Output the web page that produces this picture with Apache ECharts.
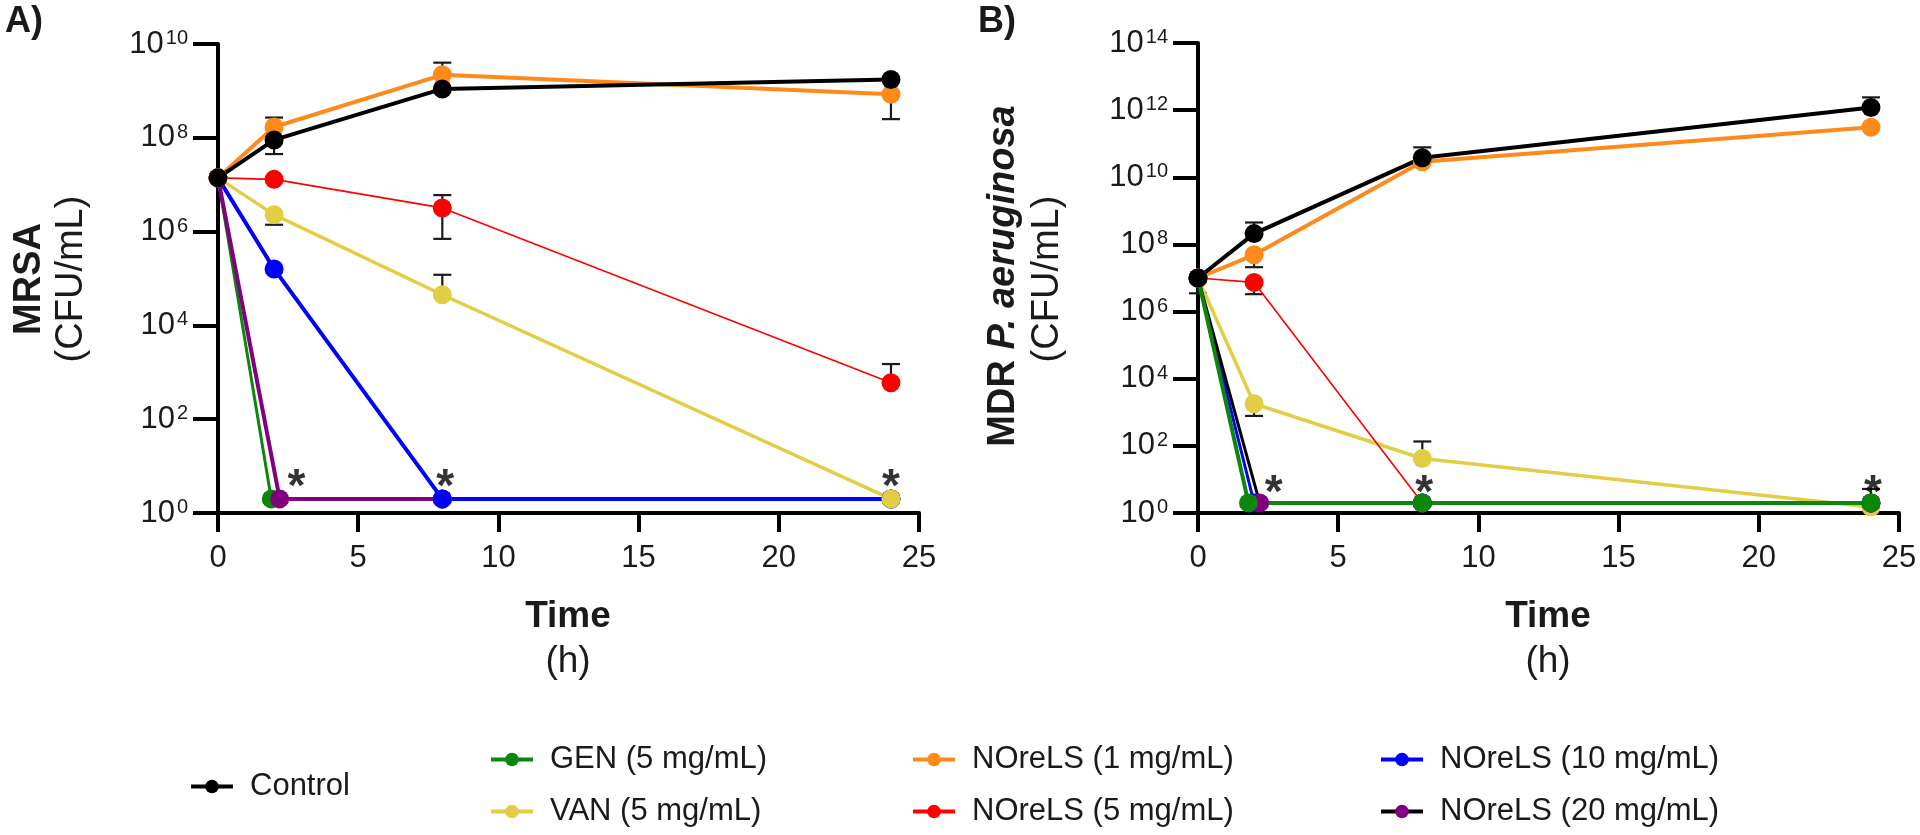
<!DOCTYPE html>
<html><head><meta charset="utf-8">
<script src="https://cdn.jsdelivr.net/npm/echarts@6/dist/echarts.min.js"></script>
<style>html,body{margin:0;padding:0;background:#fff}#c{width:1920px;height:835px}</style>
</head><body><div id="c"></div><script>
// ---------- DATA ----------
const names = ['Control','GEN (5 mg/mL)','VAN (5 mg/mL)','NOreLS (1 mg/mL)','NOreLS (5 mg/mL)','NOreLS (10 mg/mL)','NOreLS (20 mg/mL)'];
const xTicks = [0,5,10,15,20,25];
// Panel A: MRSA
const timeA      = [0, 2, 8, 24];
const genTimeA   = [0, 1.9, 8, 24];
const n20TimeA   = [0, 2.2, 8, 24];
const controlA   = [1.4e7, 9e7, 1.1e9, 1.75e9];
const genA       = [1.4e7, 2, 2, 2];
const vanA       = [1.4e7, 2.3e6, 4.5e4, 2];
const n1A        = [1.4e7, 1.7e8, 2.2e9, 8.5e8];
const n5A        = [1.4e7, 1.3e7, 3.2e6, 600];
const n10A       = [1.4e7, 1.6e5, 2, 2];
const n20A       = [1.4e7, 2, 2, 2];
// error bars: [time, mean, end]
const errA = [[2,9e7,4.5e7],[2,1.7e8,2.7e8],[8,1.1e9,2.2e9],[8,2.2e9,4e9],[24,8.5e8,2.5e8],
              [8,3.2e6,6e6],[8,3.2e6,7e5],[24,600,1500],[2,2.3e6,1.4e6],[8,4.5e4,1.2e5]];
const starsA = [[2.8,4],[8.1,4],[24,4]];
// Panel B: MDR P. aeruginosa
const timeB      = [0, 2, 8, 24];
const genTimeB   = [0, 1.8, 8, 24];
const n10TimeB   = [0, 2.0, 8, 24];
const n20TimeB   = [0, 2.2, 8, 24];
const controlB   = [1e7, 2.1e8, 3.8e10, 1.2e12];
const genB       = [1e7, 2, 2, 2];
const vanB       = [1e7, 1.8e3, 42, 1.5];
const n1B        = [1e7, 4.9e7, 2.9e10, 3.1e11];
const n5B        = [1e7, 7.4e6, 2, 2];
const n10B       = [1e7, 2, 2, 2];
const n20B       = [1e7, 2, 2, 2];
const errB = [[0,1e7,3.5e6],[2,2.1e8,4.5e8],[2,4.9e7,2.1e7],[2,7.4e6,3.3e6],[2,1.8e3,780],
              [8,3.8e10,7.8e10],[24,1.2e12,2.4e12],[8,42,135],[24,2,5.2]];
const starsB = [[2.7,4.8],[8.07,4.8],[24.07,4.8]];

// ---------- STYLE ----------
const COL = {ctrl:'#000000', gen:'#0b870b', van:'#e3cd45', n1:'#ff8a1c', n5:'#ff0000', n10:'#0000ff', n20:'#800080'};
const FONT = 'Liberation Sans, Arial, sans-serif';

function zip(xs, ys){ return xs.map((x,i)=>[x, ys[i]]); }
function line(name, xs, ys, color, width, gi, lineColor){
  return {type:'line', name, xAxisIndex:gi, yAxisIndex:gi, data:zip(xs,ys),
    symbol:'circle', symbolSize:19, showSymbol:true,
    lineStyle:{color: lineColor || color, width}, itemStyle:{color},
    emphasis:{disabled:true}, animation:false, z:3};
}
function errSeries(data, gi){
  return {type:'custom', xAxisIndex:gi, yAxisIndex:gi, data, z:2, animation:false, silent:true,
    renderItem(params, api){
      const p1 = api.coord([api.value(0), api.value(1)]);
      const p2 = api.coord([api.value(0), api.value(2)]);
      const w = 9, st = {stroke:'#1a1a1a', lineWidth:2.2};
      return {type:'group', children:[
        {type:'line', shape:{x1:p1[0],y1:p1[1],x2:p2[0],y2:p2[1]}, style:st},
        {type:'line', shape:{x1:p2[0]-w,y1:p2[1],x2:p2[0]+w,y2:p2[1]}, style:st}
      ]};
    }};
}
function starSeries(data, gi){
  return {type:'scatter', xAxisIndex:gi, yAxisIndex:gi, data, symbolSize:0, z:10, animation:false, silent:true,
    label:{show:true, position:'inside', formatter:'*', fontFamily:FONT, fontWeight:'bold', fontSize:46, color:'#000', offset:[0,4]}};
}
const sup = v => { const e = Math.round(Math.log10(v)); return '{b|10}{s|' + e + '}'; };
function yAxis(gi, max){
  return {type:'log', gridIndex:gi, min:1, max, logBase:10, interval:2,
    axisLine:{show:true, onZero:false, lineStyle:{color:'#000', width:4}},
    axisTick:{show:true, length:25, lineStyle:{color:'#000', width:4}},
    splitLine:{show:false}, minorTick:{show:false},
    axisLabel:{margin:30, formatter:sup, color:'#1a1a1a',
      rich:{b:{fontFamily:FONT, fontSize:31, color:'#1a1a1a'}, s:{fontFamily:FONT, fontSize:20, color:'#1a1a1a', verticalAlign:'top', padding:[0,0,0,2]}}}};
}
function xAxis(gi){
  return {type:'value', gridIndex:gi, min:0, max:25, interval:5,
    axisLine:{show:true, onZero:false, lineStyle:{color:'#000', width:4}},
    axisTick:{show:true, length:19, lineStyle:{color:'#000', width:4}},
    splitLine:{show:false},
    axisLabel:{margin:30, fontFamily:FONT, fontSize:31, color:'#1a1a1a',
      formatter: v => xTicks.includes(v) ? String(v) : ''}};
}

const seriesA = [
  errSeries(errA, 0),
  line(names[1], genTimeA, genA, COL.gen, 3, 0),
  line(names[6], n20TimeA, n20A, COL.n20, 4, 0),
  line(names[5], timeA, n10A, COL.n10, 4, 0),
  line(names[4], timeA, n5A, COL.n5, 1.6, 0),
  line(names[2], timeA, vanA, COL.van, 3.5, 0),
  line(names[3], timeA, n1A, COL.n1, 4, 0),
  line(names[0], timeA, controlA, COL.ctrl, 4, 0),
  starSeries(starsA, 0)
];
const seriesB = [
  errSeries(errB, 1),
  line(names[2], timeB, vanB, COL.van, 3.5, 1),
  line(names[4], timeB, n5B, COL.n5, 1.6, 1),
  line(names[5], n10TimeB, n10B, COL.n10, 3, 1),
  line(names[6], n20TimeB, n20B, COL.n20, 3, 1, '#000'),
  line(names[1], genTimeB, genB, COL.gen, 4, 1),
  line(names[3], timeB, n1B, COL.n1, 4, 1),
  line(names[0], timeB, controlB, COL.ctrl, 4, 1),
  starSeries(starsB, 1)
];

const legendBase = {orient:'vertical', itemWidth:42, itemHeight:17, itemGap:21, selectedMode:false,
  padding:0, height:110, lineStyle:{width:4},
  textStyle:{fontFamily:FONT, fontSize:31, color:'#1a1a1a', padding:[0,0,0,12]}};
const legends = [
  Object.assign({}, legendBase, {left:189, top:771, data:[names[0]]}),
  Object.assign({}, legendBase, {left:489, top:744, data:[names[1], names[2]]}),
  Object.assign({}, legendBase, {left:911, top:744, data:[names[3], names[4]]}),
  Object.assign({}, legendBase, {left:1379, top:744, data:[names[5], {name:names[6], lineStyle:{color:'#000', width:4}}]})
];

const txt = (x, y, text, size, weight, rot, extra) => ({type:'text', x, y, rotation: rot||0, silent:true,
  style:Object.assign({text, fontFamily:FONT, fontSize:size, fontWeight:weight||'normal', fill:'#1a1a1a',
    textAlign:'center', textVerticalAlign:'middle'}, extra||{})});

const graphics = [
  {type:'text', left:5, top:4, style:{text:'A)', fontFamily:FONT, fontSize:36, fontWeight:'bold', fill:'#1a1a1a'}},
  {type:'text', left:978, top:4, style:{text:'B)', fontFamily:FONT, fontSize:36, fontWeight:'bold', fill:'#1a1a1a'}},
  txt(30, 279, 'MRSA', 38, 'bold', Math.PI/2),
  txt(72, 279, '(CFU/mL)', 38, 'normal', Math.PI/2),
  txt(1004, 276, '{b|MDR }{i|P. aeruginosa}', 38, 'bold', Math.PI/2,
      {rich:{b:{fontFamily:FONT, fontSize:38, fontWeight:'bold', fill:'#1a1a1a'}, i:{fontFamily:FONT, fontSize:38, fontWeight:'bold', fontStyle:'italic', fill:'#1a1a1a'}}}),
  txt(1048, 279, '(CFU/mL)', 38, 'normal', Math.PI/2),
  txt(568, 617, 'Time', 37, 'bold'),
  txt(568, 662, '(h)', 37, 'normal'),
  txt(1548, 617, 'Time', 37, 'bold'),
  txt(1548, 662, '(h)', 37, 'normal')
];

const chart = echarts.init(document.getElementById('c'), null, {renderer:'canvas'});
chart.setOption({
  animation:false,
  backgroundColor:'#ffffff',
  grid:[{left:218, top:44, width:701, height:469}, {left:1198, top:43, width:701, height:470}],
  xAxis:[xAxis(0), xAxis(1)],
  yAxis:[yAxis(0, 1e10), yAxis(1, 1e14)],
  legend:legends,
  graphic:graphics,
  series:seriesA.concat(seriesB)
});
</script></body></html>
